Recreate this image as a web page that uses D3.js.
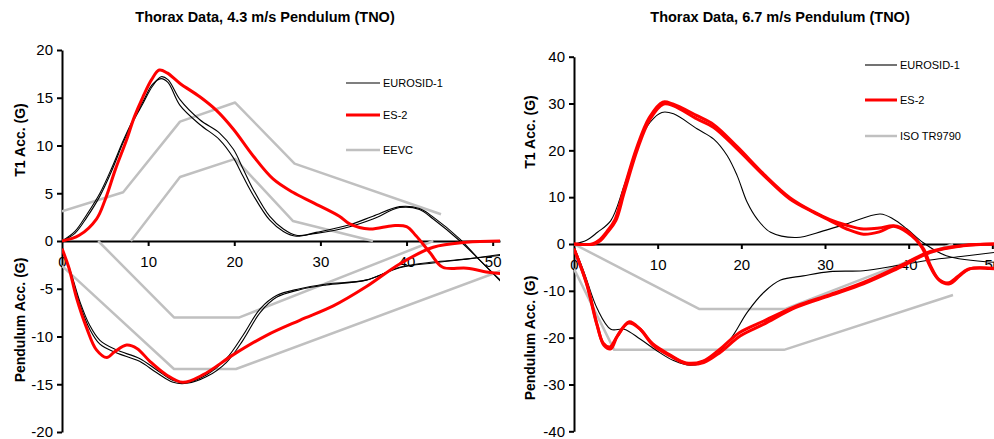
<!DOCTYPE html>
<html>
<head>
<meta charset="utf-8">
<script src="https://cdn.jsdelivr.net/npm/d3@7"></script>
<style>
  body { margin: 0; background: #fff; }
  text { font-family: Arial, "Liberation Sans", sans-serif; fill: #000; }
  .title { font-size: 14.5px; font-weight: bold; }
  .ylab { font-size: 14px; font-weight: bold; }
  .tick text { font-size: 15px; }
  .legend text { font-size: 11px; }
</style>
</head>
<body>
<svg width="994" height="439"></svg>
<script>
// ---- data: [time (ms), acceleration (G)]

// 4.3 m/s pendulum
const t1_eurosid_43a = [[0,0],[1.5,0.8],[2.9,2.5],[4.4,4.7],[5.8,7.4],[7.1,10.3],[8.3,12.6],[9.4,14.4],[10.5,16.2],[11.5,17.2],[12.3,16.9],[13.7,14.8],[16,12.7],[18.3,11.3],[19.9,9.6],[21,7.6],[22.2,5.4],[24.1,2.6],[25.7,1.25],[27.2,0.6],[29.5,0.8],[33.4,1.5],[36.1,2.3],[39.2,3.5],[41.5,3.3],[43.1,2.3],[46.2,0],[48.5,-2],[51,-4.3]];
const t1_eurosid_43b = [[0,0],[1.5,1.0],[2.9,2.8],[4.4,5.0],[5.8,7.7],[7.1,10.5],[8.3,12.8],[9.4,14.6],[10.5,16.4],[11.5,17.0],[12.3,16.6],[13.7,14.2],[16,12.2],[18.3,10.6],[19.9,8.7],[21,6.8],[22.2,4.8],[24.1,2.2],[25.7,1.0],[27.2,0.5],[29.5,0.9],[33.4,1.7],[36.1,2.6],[39.2,3.6],[41.5,3.4],[43.1,2.5],[46.2,0.2],[48.5,-2],[51,-4.2]];
const t1_es2_43 = [[0,0],[2,0.6],[4,2.3],[5,4.3],[6.2,7.5],[7.5,10.6],[8.4,13],[9.4,15.1],[10.4,16.9],[11.3,17.9],[12.2,17.6],[13.7,16.5],[16,15.1],[17.9,13.7],[19.9,11.7],[22.2,8.9],[24.5,6.5],[26.8,5.1],[29.2,4],[32.2,2.6],[33.4,1.8],[35.7,1.25],[38.4,1.6],[40,1.5],[41.1,0.55],[42.7,-1.2],[44.2,-2.75],[47,-2.85],[49.7,-3.3],[51,-3.4]];
const pend_eurosid_43a = [[0,-0.8],[1,-3.2],[2.1,-6.4],[3.2,-8.8],[4.4,-10.4],[6.3,-11.4],[9,-12.3],[11,-13.5],[12.9,-14.6],[14.5,-14.8],[16.8,-14.0],[19.1,-12.3],[21,-9.9],[23,-7.1],[24.9,-5.7],[27.6,-5.0],[30.7,-4.5],[35.3,-4.1],[39.2,-2.75],[43.1,-2.2],[46.9,-1.9],[51,-1.4]];
const pend_eurosid_43b = [[0,-0.8],[1,-3.4],[2.1,-6.7],[3.2,-9.2],[4.4,-10.8],[6.3,-11.7],[9,-12.6],[11,-13.8],[12.9,-14.8],[14.5,-14.9],[16.8,-14.2],[19.1,-12.7],[21,-10.4],[23,-7.5],[24.9,-5.9],[27.6,-5.1],[30.7,-4.6],[35.3,-4.1],[39.2,-2.8],[43.1,-2.3],[46.9,-1.9],[51,-1.5]];
const pend_es2_43 = [[0,-0.8],[0.8,-2.8],[1.7,-6.0],[2.9,-9.2],[4,-11.4],[5.2,-12.2],[6.1,-11.6],[7.5,-10.9],[8.7,-11.25],[10.2,-12.6],[12.1,-14.0],[14,-14.8],[16.4,-14.0],[19.9,-11.9],[23.7,-9.9],[27.6,-8.3],[31.5,-6.8],[35.3,-4.8],[39.2,-2.4],[43.1,-0.66],[46.9,-0.14],[51,0]];
const eevc_t1_upper = [[0,3.1],[7.1,5.1],[13.7,12.5],[20.1,14.5],[27,8.1],[44,2.8]];
const eevc_t1_lower = [[8,0],[13.7,6.7],[20.1,8.6],[26.8,2.1],[36.1,0]];
const eevc_pend_upper = [[4.2,0],[13,-8],[20.6,-8],[43.1,0]];
const eevc_pend_lower = [[0,-2.6],[13,-13.4],[20.2,-13.4],[51,-3.1]];

// 6.7 m/s pendulum
const t1_eurosid_67 = [[0,0],[1.5,0.8],[2.8,2.5],[4.4,5],[6,12.5],[7.6,21],[9.1,26],[10.5,28.1],[11.9,27.8],[14.7,24.6],[16.7,22.4],[18.3,18.9],[19.5,14.6],[20.7,8.9],[21.9,5.3],[23.5,2.5],[26.6,1.4],[29.8,2.8],[32.6,4.3],[36.6,6.4],[38.2,5.3],[39.8,3.2],[41.8,0.2],[44.5,-2.5],[50.2,-3.9]];
const t1_es2_67a = [[0,0],[2.4,0],[3.2,0.8],[4,2.5],[5,5],[6,11],[7.6,20.3],[9.1,26.7],[10.7,29.9],[11.9,29.5],[14.7,26.7],[16.7,24.9],[19.5,20.3],[22.7,14.6],[25.8,9.6],[28.6,6.8],[30.6,5.0],[32.6,3.2],[34.6,2.1],[36.5,2.6],[38.2,3.8],[39.8,2.5],[41.8,-1.1],[42.6,-4.6],[43.7,-7.8],[44.9,-8.5],[46.1,-6.8],[47.3,-5.3],[50.2,-5.2]];
const t1_es2_67b = [[0,0],[2.2,0],[3.0,0.8],[3.9,2.6],[4.9,5.2],[5.9,11.3],[7.5,20.6],[9.0,27],[10.6,30.3],[11.8,29.9],[14.7,27.4],[16.7,25.5],[19.5,20.8],[22.7,14.9],[25.8,9.9],[28.6,6.9],[30.6,5.2],[32.6,4.0],[34.6,3.2],[36.5,3.4],[38.2,3.9],[39.8,2.8],[41.6,-0.8],[42.4,-4.2],[43.5,-7.4],[44.7,-8.3],[45.9,-6.9],[47.1,-5.4],[50.2,-5.3]];
const pend_eurosid_67 = [[0,-0.5],[1.2,-6],[2.8,-13.9],[4.4,-18.2],[6,-18.2],[7.9,-20.3],[9.9,-22.8],[11.9,-24.9],[13.9,-25.9],[16.3,-24.6],[18.7,-20.3],[20.7,-14.6],[22.7,-10.3],[24.7,-7.7],[27.4,-6.8],[30.6,-5.9],[34.6,-5.7],[38.6,-4.6],[42.6,-3.4],[46.5,-2.6],[50.2,-1.8]];
const pend_es2_67a = [[0,-1],[1.6,-8.9],[2.8,-17.5],[3.6,-21.7],[4.4,-22.4],[5.2,-19.6],[6.6,-16.6],[7.9,-18.2],[9.5,-21.7],[11.5,-23.9],[13.5,-25.6],[15.5,-25.3],[17.5,-23.1],[19.9,-19.6],[22.7,-17.1],[26.6,-13.5],[30.6,-11.0],[34.6,-8.5],[38.6,-5.3],[42.6,-1.8],[46.5,-0.4],[50.2,0]];
const pend_es2_67b = [[0,-1],[1.5,-8.5],[2.7,-17],[3.5,-21.2],[4.3,-22],[5.1,-19.9],[6.5,-16.9],[7.8,-18.0],[9.4,-21.3],[11.4,-23.6],[13.4,-25.4],[15.4,-25.0],[17.4,-22.5],[19.8,-18.9],[22.6,-16.5],[26.6,-13.2],[30.6,-10.8],[34.6,-8.2],[38.6,-5.0],[42.6,-1.6],[46.5,-0.3],[50.2,0]];
const iso_pend_upper = [[0,0],[15,-13.9],[25.2,-13.9],[45.3,0]];
const iso_pend_lower = [[0,-5.3],[4.8,-22.6],[25.1,-22.6],[45.3,-10.9]];

const xTicks = [0, 10, 20, 30, 40, 50];
const yTicksLeft = [20, 15, 10, 5, 0, -5, -10, -15, -20];
const yTicksRight = [40, 30, 20, 10, 0, -10, -20, -30, -40];

const svg = d3.select("svg");

const style = {
  eurosid: {stroke: "#000", width: 1.1, curve: true},
  es2: {stroke: "#ff0000", width: 3, curve: true},
  corridor: {stroke: "#c0c0c0", width: 2.5, curve: false}
};

// plain hyphen for negatives, like the original
const fmt = d => String(d);

function drawPanel(p) {
  const x = d3.scaleLinear().domain(p.xDomain).range(p.xRange);
  const y = d3.scaleLinear().domain(p.yDomain).range(p.yRange);
  const g = svg.append("g");

  g.append("text").attr("class", "title")
    .attr("x", p.titleX).attr("y", 22)
    .attr("text-anchor", "middle").text(p.title);

  // y axis
  g.append("g")
    .attr("transform", `translate(${p.xRange[0]},0)`)
    .call(d3.axisLeft(y).tickValues(p.yTicks).tickFormat(fmt).tickSize(5).tickPadding(4).tickSizeOuter(0))
    .call(a => a.select(".domain").attr("stroke-width", 2))
    .call(a => a.selectAll(".tick line").attr("stroke-width", 2));

  // x axis at zero
  g.append("g")
    .attr("transform", `translate(0,${y(0)})`)
    .call(d3.axisBottom(x).tickValues(xTicks).tickFormat(fmt).tickSize(5).tickPadding(10).tickSizeOuter(0))
    .call(a => a.select(".domain").attr("stroke-width", 2))
    .call(a => a.selectAll(".tick line").attr("stroke-width", 2))
    .call(a => a.selectAll(".tick").filter(d => d === 0).select("line").remove());

  svg.selectAll(".tick text").attr("font-family", null).attr("font-size", null);
  svg.selectAll(".tick").attr("font-size", null);
  g.selectAll("g").attr("font-size", null).attr("font-family", null);

  // axis titles
  g.append("text").attr("class", "ylab")
    .attr("transform", `translate(${p.ylabX},${p.ylabTopY}) rotate(-90)`)
    .attr("text-anchor", "middle").text("T1 Acc. (G)");
  g.append("text").attr("class", "ylab")
    .attr("transform", `translate(${p.ylabX},${p.ylabBotY}) rotate(-90)`)
    .attr("text-anchor", "middle").text("Pendulum Acc. (G)");

  const clipId = "clip" + p.id;
  svg.append("clipPath").attr("id", clipId).append("rect")
    .attr("x", p.xRange[0]).attr("y", p.yRange[1])
    .attr("width", p.xRange[1] - p.xRange[0]).attr("height", p.yRange[0] - p.yRange[1]);

  const smooth = d3.line().x(d => x(d[0])).y(d => y(d[1])).curve(d3.curveCatmullRom.alpha(0.5));
  const straight = d3.line().x(d => x(d[0])).y(d => y(d[1]));

  const lines = g.append("g").attr("clip-path", `url(#${clipId})`);
  lines.selectAll("path")
    .data(p.series)
    .enter().append("path")
    .attr("fill", "none")
    .attr("stroke", d => style[d.kind].stroke)
    .attr("stroke-width", d => style[d.kind].width)
    .attr("stroke-linejoin", "round")
    .attr("d", d => style[d.kind].curve ? smooth(d.values) : straight(d.values));

  // legend
  const lg = g.append("g").attr("class", "legend");
  p.legend.forEach((item, i) => {
    const ly = p.legendY[i];
    lg.append("line")
      .attr("x1", p.legendX).attr("x2", p.legendX + p.legendLen)
      .attr("y1", ly).attr("y2", ly)
      .attr("stroke", style[item.kind].stroke)
      .attr("stroke-width", style[item.kind].width);
    lg.append("text")
      .attr("x", p.legendX + p.legendLen + 3).attr("y", ly + 4)
      .text(item.label);
  });
}

drawPanel({
  id: "L",
  title: "Thorax Data, 4.3 m/s Pendulum (TNO)",
  titleX: 265,
  xDomain: [0, 50.85], xRange: [62, 500],
  yDomain: [-20, 20], yRange: [432, 50],
  yTicks: yTicksLeft,
  ylabX: 25, ylabTopY: 140, ylabBotY: 320,
  series: [
    {kind: "corridor", values: eevc_t1_upper},
    {kind: "corridor", values: eevc_t1_lower},
    {kind: "corridor", values: eevc_pend_upper},
    {kind: "corridor", values: eevc_pend_lower},
    {kind: "eurosid", values: t1_eurosid_43a},
    {kind: "eurosid", values: t1_eurosid_43b},
    {kind: "eurosid", values: pend_eurosid_43a},
    {kind: "eurosid", values: pend_eurosid_43b},
    {kind: "es2", values: t1_es2_43},
    {kind: "es2", values: pend_es2_43}
  ],
  legend: [
    {kind: "eurosid", label: "EUROSID-1"},
    {kind: "es2", label: "ES-2"},
    {kind: "corridor", label: "EEVC"}
  ],
  legendX: 346, legendLen: 34, legendY: [83, 115, 150]
});

drawPanel({
  id: "R",
  title: "Thorax Data, 6.7 m/s Pendulum (TNO)",
  titleX: 780,
  xDomain: [0, 50.2], xRange: [574, 994],
  yDomain: [-40, 40], yRange: [431.3, 56.7],
  yTicks: yTicksRight,
  ylabX: 535, ylabTopY: 132, ylabBotY: 338,
  series: [
    {kind: "corridor", values: iso_pend_upper},
    {kind: "corridor", values: iso_pend_lower},
    {kind: "eurosid", values: t1_eurosid_67},
    {kind: "eurosid", values: pend_eurosid_67},
    {kind: "es2", values: t1_es2_67a},
    {kind: "es2", values: t1_es2_67b},
    {kind: "es2", values: pend_es2_67a},
    {kind: "es2", values: pend_es2_67b}
  ],
  legend: [
    {kind: "eurosid", label: "EUROSID-1"},
    {kind: "es2", label: "ES-2"},
    {kind: "corridor", label: "ISO TR9790"}
  ],
  legendX: 865, legendLen: 32, legendY: [65, 100, 136]
});
</script>
</body>
</html>
